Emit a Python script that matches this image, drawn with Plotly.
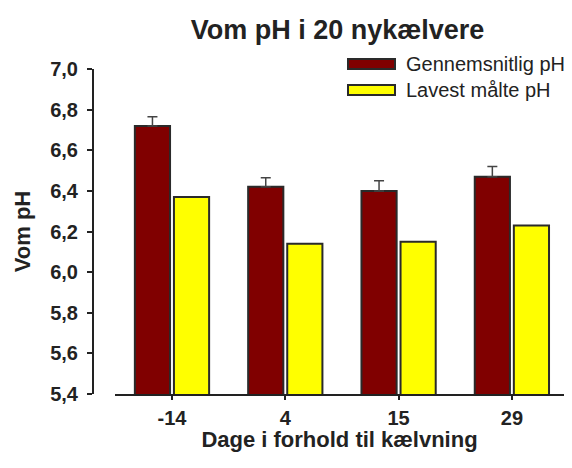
import plotly.graph_objects as go

categories = ["-14", "4", "15", "29"]
mean_ph = [6.72, 6.42, 6.40, 6.47]
mean_err = [0.045, 0.045, 0.05, 0.05]
lowest_ph = [6.37, 6.14, 6.15, 6.23]
y_ticks = [5.4, 5.6, 5.8, 6.0, 6.2, 6.4, 6.6, 6.8, 7.0]
series_names = ["Gennemsnitlig pH", "Lavest målte pH"]
colors = ["#800000", "#FFFF00"]

FONT = "Liberation Sans, Arial, sans-serif"
TXT = "#222222"

fig = go.Figure()
fig.add_trace(go.Bar(
    x=categories, y=mean_ph, name=series_names[0],
    marker=dict(color=colors[0], line=dict(color="#2a2a2a", width=2)),
    error_y=dict(type="data", symmetric=False, array=mean_err,
                 arrayminus=[0] * len(mean_err), color="#444444",
                 thickness=1.5, width=5),
))
fig.add_trace(go.Bar(
    x=categories, y=lowest_ph, name=series_names[1],
    marker=dict(color=colors[1], line=dict(color="#2a2a2a", width=2)),
))

# page offset of the figure inside the browser body
OFF = 8
W, H = 556, 444
L, T = 93 - OFF, 69 - OFF
PB = 394 - OFF               # plot bottom in figure px
PR = W                       # plot right in figure px
PW, PH = PR - L, PB - T

leg_y = [64, 90]
for i, (nm, c) in enumerate(zip(series_names, colors)):
    fig.add_shape(type="rect", xref="paper", yref="paper",
                  x0=(348 - 93) / PW, x1=(395 - 93) / PW,
                  y0=(394 - leg_y[i] - 5) / PH, y1=(394 - leg_y[i] + 5) / PH,
                  fillcolor=c, line=dict(color="#2a2a2a", width=2))
    fig.add_annotation(xref="paper", yref="paper",
                       x=(404 - 93) / PW, y=(394 - leg_y[i]) / PH,
                       text=nm, showarrow=False, xanchor="left", yanchor="middle",
                       font=dict(family=FONT, size=20, color=TXT))

fig.update_layout(
    width=W, height=H,
    margin=dict(l=L, r=W - PR, t=T, b=H - PB),
    paper_bgcolor="white", plot_bgcolor="white",
    barmode="group", bargap=0.31, bargroupgap=0.1,
    showlegend=False,
    title=dict(text="<b>Vom pH i 20 nykælvere</b>", x=(337.5 - OFF) / W, xanchor="center",
               xref="container", y=1 - (30 - OFF) / H, yanchor="middle",
               font=dict(family=FONT, size=27, color=TXT)),
    xaxis=dict(
        type="category", domain=[22 / PW, 1], range=[-0.503, -0.503 + (PW - 22) / 113.3],
        showline=True, linecolor="#222222", linewidth=2,
        ticks="outside", ticklen=4, tickcolor="#222222", tickwidth=1.5,
        tickvals=categories, ticktext=["<b>%s</b>" % c for c in categories],
        tickfont=dict(family=FONT, size=20, color=TXT),
        ticklabelstandoff=1,
        title=dict(text="<b>Dage i forhold til kælvning</b>", standoff=14,
                   font=dict(family=FONT, size=22, color=TXT)),
        showgrid=False, zeroline=False, automargin=False,
    ),
    yaxis=dict(
        range=[5.4, 7.0], tickvals=y_ticks,
        ticktext=["<b>%s</b>" % f"{v:.1f}".replace(".", ",") for v in y_ticks],
        anchor="free", position=0,
        showline=True, linecolor="#222222", linewidth=2,
        ticks="outside", ticklen=5, tickcolor="#222222", tickwidth=2,
        tickfont=dict(family=FONT, size=20, color=TXT),
        ticklabelstandoff=5,
        title=dict(text="<b>Vom pH</b>", standoff=12,
                   font=dict(family=FONT, size=22, color=TXT)),
        showgrid=False, zeroline=False, automargin=False,
    ),
)

fig.write_html("out.html")
